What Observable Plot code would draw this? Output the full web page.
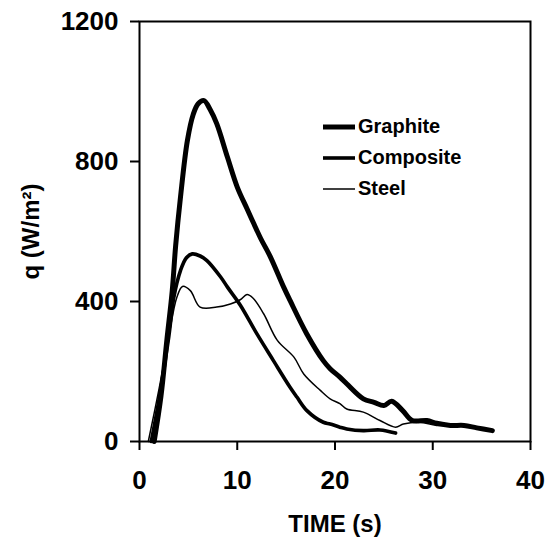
<!DOCTYPE html>
<html>
<head>
<meta charset="utf-8">
<script src="https://cdn.jsdelivr.net/npm/d3@7"></script>
<script src="https://cdn.jsdelivr.net/npm/@observablehq/plot@0.6"></script>
<style>
  html, body { margin: 0; padding: 0; background: #fff; }
  #wrap { position: relative; width: 549px; height: 540px; }
  #legend { position: absolute; left: 322px; top: 111px; font-family: "Liberation Sans", Arial, sans-serif; font-weight: bold; font-size: 20px; color: #000; }
  #legend .row { display: flex; align-items: center; height: 31px; }
  #legend svg { margin-right: 2px; }
</style>
</head>
<body>
<div id="wrap"></div>
<script>
// Data
const seriesNames = ["Graphite", "Composite", "Steel"];
const strokeWidths = [5, 3.6, 1.5];

const graphiteT = [1.5, 2.2, 2.8, 3.35, 3.7, 4.2, 4.9, 5.5, 6.0, 6.6, 7.2, 7.9, 9.0, 10.0, 11.0, 11.7, 12.4, 13.4, 14.75, 15.4, 17.1, 18.8, 19.5, 20.5, 21.2, 22.9, 24.0, 25.0, 25.8, 26.9, 27.9, 29.4, 30.4, 31.8, 33.2, 34.5, 36.1];
const graphiteQ = [0, 130, 290, 431, 560, 700, 860, 935, 965, 974, 950, 908, 812, 727, 665, 622, 580, 527, 441, 403, 308, 231, 208, 184, 165, 122, 112, 103, 115, 89, 60, 60, 52, 46, 46, 39, 31];

const compositeT = [1.2, 2.0, 3.0, 3.5, 4.2, 4.8, 5.4, 6.2, 6.9, 8.3, 9.0, 10.3, 12.0, 13.7, 15.4, 16.1, 17.1, 18.8, 19.5, 20.5, 21.2, 22.9, 24.6, 26.2];
const compositeQ = [0, 120, 300, 410, 489, 525, 536, 530, 517, 470, 441, 390, 308, 231, 155, 127, 89, 55, 50, 41, 36, 31, 33, 24];

const steelT = [0.9, 2.0, 3.0, 3.8, 4.4, 5.2, 6.2, 7.9, 9.3, 10.3, 11.0, 11.6, 12.7, 14.1, 15.8, 16.8, 18.5, 19.5, 20.5, 21.2, 22.9, 24.6, 26.2, 27.0, 28.7, 30.4, 33.2, 35.9];
const steelQ = [0, 150, 300, 410, 443, 431, 384, 384, 393, 405, 420, 410, 365, 289, 241, 193, 146, 122, 108, 93, 84, 60, 41, 50, 55, 46, 46, 33];

const xTicks = [0, 10, 20, 30, 40];
const yTicks = [0, 400, 800, 1200];
const xLabel = "TIME (s)";
const yLabel = "q (W/m²)";

const toRows = (name, ts, qs) => ts.map((t, i) => ({series: name, t, q: qs[i]}));
const tables = [
  toRows("Graphite", graphiteT, graphiteQ),
  toRows("Composite", compositeT, compositeQ),
  toRows("Steel", steelT, steelQ)
];

const font = "Liberation Sans, Arial, sans-serif";

const chart = Plot.plot({
  width: 549,
  height: 540,
  marginLeft: 139,
  marginRight: 19,
  marginTop: 21,
  marginBottom: 99,
  style: {fontFamily: font, fontWeight: "bold", color: "#000", background: "#fff"},
  x: {domain: [0, 40], ticks: xTicks},
  y: {domain: [0, 1200], ticks: yTicks},
  marks: [
    Plot.frame({stroke: "#000", strokeWidth: 2}),
    Plot.axisX({ticks: xTicks, tickSize: 9, tickPadding: 20, fontSize: 26, strokeWidth: 2, label: null, tickFormat: d => String(d)}),
    Plot.axisY({ticks: yTicks, tickSize: 9, tickPadding: 12, fontSize: 26, strokeWidth: 2, label: null, tickFormat: d => String(d)}),
    ...tables.map((rows, i) => Plot.line(rows, {
      x: "t", y: "q", stroke: "#000", strokeWidth: strokeWidths[i],
      curve: "catmull-rom", strokeLinejoin: "round", strokeLinecap: "round"
    })),
    Plot.text([xLabel], {frameAnchor: "bottom", dy: 83, text: d => d, fontSize: 24, fontWeight: "bold", lineAnchor: "middle"}),
    Plot.text([yLabel], {frameAnchor: "left", textAnchor: "middle", dx: -108, rotate: -90, text: d => d, fontSize: 24, fontWeight: "bold", lineAnchor: "middle"})
  ]
});

const wrap = document.getElementById("wrap");
wrap.appendChild(chart);

const legend = document.createElement("div");
legend.id = "legend";
seriesNames.forEach((name, i) => {
  const row = document.createElement("div");
  row.className = "row";
  row.innerHTML = `<svg width="34" height="10"><line x1="1" x2="33" y1="5" y2="5" stroke="#000" stroke-width="${strokeWidths[i]}"/></svg><span>${name}</span>`;
  legend.appendChild(row);
});
wrap.appendChild(legend);
</script>
</body>
</html>
